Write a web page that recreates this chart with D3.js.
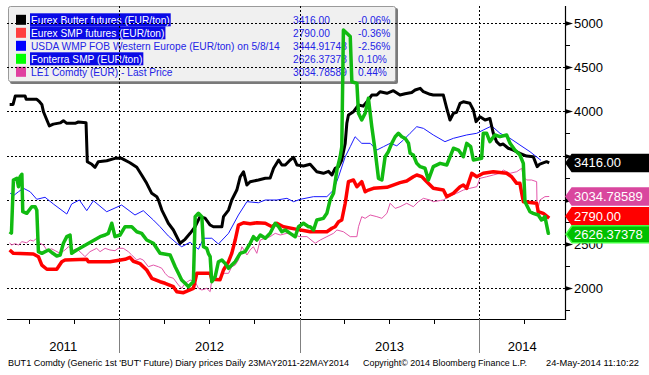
<!DOCTYPE html>
<html>
<head>
<meta charset="utf-8">
<script src="https://cdn.jsdelivr.net/npm/d3@7"></script>
<style>
  html, body { margin: 0; padding: 0; background: #fff; }
  svg { display: block; }
</style>
</head>
<body>
<div id="chart"></div>
<script>
// Time is given as decimal year, values in EUR/ton
const butter = [
  [2011.390, 4080], [2011.409, 4080], [2011.421, 4175], [2011.476, 4175], [2011.482, 4137], [2011.541, 4137],
  [2011.556, 4110], [2011.569, 4080], [2011.578, 3997], [2011.597, 3903], [2011.611, 3835], [2011.633, 3856],
  [2011.671, 3870], [2011.689, 3895], [2011.708, 3865], [2011.754, 3865], [2011.772, 3880], [2011.815, 3872],
  [2011.822, 3430], [2011.847, 3400], [2011.865, 3366], [2011.883, 3430], [2011.930, 3441], [2011.976, 3468],
  [2012.013, 3468], [2012.059, 3418], [2012.097, 3366], [2012.124, 3279], [2012.152, 3184], [2012.180, 3071],
  [2012.208, 3033], [2012.217, 2995], [2012.236, 2881], [2012.254, 2806], [2012.272, 2731], [2012.300, 2655],
  [2012.328, 2541], [2012.337, 2504], [2012.365, 2549], [2012.393, 2617], [2012.421, 2692], [2012.448, 2806],
  [2012.476, 2790], [2012.504, 2711], [2012.522, 2692], [2012.569, 2692], [2012.578, 2806], [2012.606, 2881],
  [2012.624, 2995], [2012.652, 3108], [2012.671, 3259], [2012.689, 3316], [2012.708, 3165], [2012.726, 3203],
  [2012.772, 3222], [2012.810, 3241], [2012.837, 3245], [2012.856, 3355], [2012.884, 3449], [2012.902, 3392],
  [2012.921, 3392], [2012.948, 3449], [2012.967, 3479], [2012.986, 3392], [2013.022, 3381], [2013.059, 3400],
  [2013.096, 3316], [2013.133, 3298], [2013.161, 3320], [2013.180, 3279], [2013.198, 3355], [2013.217, 3373],
  [2013.235, 3449], [2013.254, 3638], [2013.263, 3865], [2013.272, 3959], [2013.300, 3997], [2013.328, 4073],
  [2013.354, 4060], [2013.383, 4130], [2013.402, 4186], [2013.430, 4186], [2013.448, 4224], [2013.486, 4206],
  [2013.522, 4235], [2013.559, 4186], [2013.587, 4200], [2013.624, 4215], [2013.643, 4243], [2013.671, 4262],
  [2013.689, 4224], [2013.726, 4194], [2013.744, 4186], [2013.800, 4186], [2013.819, 4036], [2013.837, 3903],
  [2013.856, 3979], [2013.874, 3990], [2013.893, 4092], [2013.911, 4110], [2013.948, 4092], [2013.967, 4016],
  [2013.982, 3884], [2014.004, 3940], [2014.032, 3903], [2014.059, 3920], [2014.078, 3752], [2014.096, 3657],
  [2014.115, 3619], [2014.133, 3630], [2014.161, 3582], [2014.189, 3562], [2014.226, 3525], [2014.263, 3494],
  [2014.300, 3487], [2014.322, 3373], [2014.337, 3403], [2014.374, 3430], [2014.389, 3416]
];

const smp = [
  [2011.390, 2428], [2011.411, 2390], [2011.522, 2382], [2011.550, 2352], [2011.569, 2257], [2011.597, 2209],
  [2011.652, 2209], [2011.680, 2295], [2011.698, 2314], [2011.819, 2322], [2011.828, 2295], [2011.948, 2295],
  [2012.032, 2322], [2012.059, 2345], [2012.078, 2300], [2012.115, 2273], [2012.152, 2201], [2012.180, 2107],
  [2012.226, 2068], [2012.254, 2050], [2012.300, 2012], [2012.319, 1955], [2012.356, 1943], [2012.411, 1993],
  [2012.430, 2163], [2012.504, 2163], [2012.513, 2095], [2012.559, 2090], [2012.578, 2201], [2012.606, 2295],
  [2012.624, 2390], [2012.643, 2541], [2012.661, 2711], [2012.689, 2737], [2012.726, 2725], [2012.763, 2737],
  [2012.810, 2731], [2012.847, 2692], [2012.874, 2731], [2012.911, 2692], [2012.986, 2662], [2013.022, 2650],
  [2013.059, 2635], [2013.152, 2635], [2013.180, 2674], [2013.198, 2692], [2013.217, 2749], [2013.235, 2768],
  [2013.254, 2958], [2013.272, 3203], [2013.300, 3222], [2013.319, 3146], [2013.346, 3203], [2013.365, 3089],
  [2013.383, 3108], [2013.411, 3128], [2013.486, 3139], [2013.559, 3192], [2013.596, 3211], [2013.633, 3259],
  [2013.652, 3279], [2013.680, 3260], [2013.698, 3222], [2013.744, 3128], [2013.800, 3108], [2013.819, 3033],
  [2013.856, 3071], [2013.893, 3146], [2013.911, 3165], [2013.930, 3128], [2013.958, 3298], [2013.986, 3259],
  [2014.022, 3298], [2014.078, 3316], [2014.152, 3298], [2014.180, 3259], [2014.208, 3184], [2014.226, 3184],
  [2014.236, 3071], [2014.245, 2976], [2014.319, 2958], [2014.328, 2862], [2014.356, 2844], [2014.389, 2790]
];

const wmp = [
  [2011.393, 3071], [2011.415, 3050], [2011.439, 3089], [2011.467, 3128], [2011.504, 3089], [2011.541, 3003],
  [2011.587, 3026], [2011.633, 2950], [2011.708, 2836], [2011.735, 2950], [2011.778, 2995], [2011.819, 2874],
  [2011.856, 2987], [2011.930, 2862], [2012.013, 2938], [2012.087, 2825], [2012.133, 2874], [2012.189, 2768],
  [2012.226, 2692], [2012.272, 2587], [2012.319, 2504], [2012.346, 2465], [2012.393, 2515], [2012.439, 2436],
  [2012.467, 2561], [2012.513, 2561], [2012.550, 2496], [2012.606, 2617], [2012.661, 2825], [2012.708, 2976],
  [2012.772, 2964], [2012.810, 2995], [2012.874, 2995], [2012.930, 3014], [2012.967, 2976], [2013.004, 3003],
  [2013.078, 3033], [2013.152, 3033], [2013.189, 3108], [2013.217, 3259], [2013.254, 3486], [2013.282, 3600],
  [2013.309, 3713], [2013.346, 3638], [2013.393, 3638], [2013.430, 3562], [2013.467, 3600], [2013.504, 3638],
  [2013.541, 3610], [2013.578, 3676], [2013.615, 3752], [2013.652, 3827], [2013.689, 3808], [2013.744, 3733],
  [2013.809, 3657], [2013.856, 3695], [2013.930, 3733], [2013.986, 3752], [2014.022, 3789], [2014.069, 3835],
  [2014.115, 3752], [2014.171, 3695], [2014.226, 3619], [2014.282, 3543], [2014.343, 3445]
];

const fonterra = [
  [2011.390, 2635], [2011.400, 2620], [2011.411, 3222], [2011.430, 3241], [2011.439, 3146], [2011.448, 3259],
  [2011.458, 3287], [2011.463, 2862], [2011.485, 2844], [2011.513, 2919], [2011.532, 2919], [2011.541, 2880],
  [2011.550, 2409], [2011.569, 2390], [2011.606, 2428], [2011.624, 2400], [2011.652, 2360], [2011.671, 2371],
  [2011.689, 2504], [2011.708, 2579], [2011.726, 2598], [2011.735, 2390], [2011.763, 2428], [2011.893, 2579],
  [2011.921, 2598], [2011.939, 2617], [2011.958, 2731], [2011.976, 2579], [2012.004, 2598], [2012.032, 2692],
  [2012.069, 2692], [2012.097, 2635], [2012.124, 2617], [2012.152, 2541], [2012.189, 2504], [2012.226, 2390],
  [2012.282, 2371], [2012.310, 2238], [2012.328, 2163], [2012.346, 2087], [2012.365, 2050], [2012.383, 2012],
  [2012.411, 2068], [2012.421, 2806], [2012.439, 2844], [2012.458, 2806], [2012.467, 2465], [2012.485, 2447],
  [2012.494, 2390], [2012.504, 2352], [2012.513, 2068], [2012.532, 2125], [2012.550, 2295], [2012.569, 2314],
  [2012.587, 2276], [2012.606, 2220], [2012.624, 2257], [2012.643, 2295], [2012.671, 2390], [2012.698, 2409],
  [2012.726, 2504], [2012.744, 2579], [2012.763, 2541], [2012.782, 2598], [2012.810, 2561], [2012.837, 2617],
  [2012.865, 2731], [2012.884, 2692], [2012.902, 2635], [2012.921, 2655], [2012.948, 2617], [2012.976, 2579],
  [2012.994, 2692], [2013.022, 2731], [2013.050, 2692], [2013.059, 2692], [2013.078, 2655], [2013.096, 2768],
  [2013.133, 2787], [2013.152, 2844], [2013.170, 2995], [2013.189, 3071], [2013.208, 3336], [2013.226, 3486],
  [2013.235, 3600], [2013.244, 4924], [2013.263, 4887], [2013.282, 4850], [2013.291, 4337], [2013.319, 4319],
  [2013.328, 3979], [2013.346, 3903], [2013.365, 3979], [2013.383, 4149], [2013.402, 3827], [2013.420, 3562],
  [2013.439, 3241], [2013.458, 3222], [2013.476, 3486], [2013.494, 3543], [2013.513, 3638], [2013.532, 3713],
  [2013.550, 3752], [2013.569, 3713], [2013.587, 3695], [2013.606, 3638], [2013.615, 3525], [2013.633, 3506],
  [2013.652, 3411], [2013.671, 3373], [2013.698, 3355], [2013.717, 3222], [2013.744, 3373], [2013.782, 3411],
  [2013.819, 3392], [2013.856, 3582], [2013.884, 3562], [2013.911, 3486], [2013.930, 3638], [2013.952, 3600],
  [2013.967, 3449], [2014.013, 3468], [2014.022, 3752], [2014.041, 3752], [2014.059, 3657], [2014.087, 3733],
  [2014.115, 3714], [2014.152, 3733], [2014.171, 3638], [2014.198, 3562], [2014.226, 3506], [2014.245, 3411],
  [2014.254, 2976], [2014.282, 2862], [2014.300, 2844], [2014.328, 2825], [2014.346, 2768], [2014.365, 2806],
  [2014.384, 2617], [2014.389, 2626]
];

const le1 = [
  [2011.390, 2510], [2011.400, 2484], [2011.421, 2500], [2011.439, 2484], [2011.458, 2522], [2011.485, 2510],
  [2011.504, 2541], [2011.522, 2530], [2011.541, 2561], [2011.559, 2504], [2011.578, 2484], [2011.597, 2428],
  [2011.624, 2440], [2011.643, 2420], [2011.671, 2390], [2011.698, 2428], [2011.717, 2465], [2011.744, 2428],
  [2011.763, 2440], [2011.791, 2390], [2011.809, 2352], [2011.837, 2409], [2011.874, 2447], [2011.893, 2409],
  [2011.921, 2447], [2011.948, 2428], [2011.976, 2420], [2011.994, 2447], [2012.022, 2447], [2012.050, 2409],
  [2012.069, 2371], [2012.097, 2314], [2012.115, 2330], [2012.133, 2314], [2012.161, 2238], [2012.189, 2257],
  [2012.217, 2238], [2012.236, 2220], [2012.254, 2163], [2012.272, 2125], [2012.300, 2107], [2012.328, 2031],
  [2012.346, 1993], [2012.365, 2050], [2012.393, 2087], [2012.421, 2068], [2012.439, 1993], [2012.458, 1974],
  [2012.485, 1993], [2012.504, 1955], [2012.513, 2087], [2012.541, 2107], [2012.559, 2087], [2012.578, 2163],
  [2012.606, 2163], [2012.624, 2238], [2012.643, 2257], [2012.661, 2314], [2012.680, 2465], [2012.698, 2409],
  [2012.708, 2371], [2012.726, 2428], [2012.744, 2465], [2012.763, 2390], [2012.782, 2541], [2012.810, 2561],
  [2012.837, 2579], [2012.865, 2617], [2012.893, 2598], [2012.930, 2617], [2012.967, 2598], [2013.004, 2579],
  [2013.041, 2580], [2013.087, 2504], [2013.115, 2541], [2013.152, 2579], [2013.189, 2617], [2013.208, 2655],
  [2013.244, 2635], [2013.282, 2579], [2013.319, 2579], [2013.328, 2692], [2013.346, 2806], [2013.365, 2787],
  [2013.393, 2825], [2013.430, 2806], [2013.458, 2787], [2013.486, 2844], [2013.504, 2958], [2013.532, 2900],
  [2013.559, 2919], [2013.596, 2958], [2013.633, 2919], [2013.661, 2976], [2013.689, 3014], [2013.726, 2995],
  [2013.744, 2976], [2013.800, 2995], [2013.828, 3033], [2013.874, 3071], [2013.911, 3108], [2013.948, 3128],
  [2013.986, 3146], [2014.004, 3241], [2014.041, 3259], [2014.078, 3279], [2014.115, 3298], [2014.133, 3336],
  [2014.171, 3298], [2014.208, 3316], [2014.236, 3355], [2014.245, 3259], [2014.263, 3222], [2014.291, 3222],
  [2014.319, 3203], [2014.322, 2844], [2014.337, 2995], [2014.365, 3033], [2014.389, 3035]
];

// Legend rows
const legendNames = [
  "Eurex Butter futures (EUR/ton)",
  "Eurex SMP futures (EUR/ton)",
  "USDA WMP FOB Western Europe (EUR/ton) on 5/8/14",
  "Fonterra SMP (EUR/ton)",
  "LE1 Comdty (EUR)  - Last Price"
];
const legendLast = ["3416.00", "2790.00", "3444.91748", "2626.37378", "3034.78589"];
const legendChange = ["-0.06%", "-0.36%", "-2.56%", "0.10%", "0.44%"];
const legendSelected = [true, true, false, true, false];

const yTicks = [2000, 2500, 3000, 3500, 4000, 4500, 5000];
const yMinorTicks = [1750, 2250, 2750, 3250, 3750, 4250, 4750];
const yearLabels = ["2011", "2012", "2013", "2014"];

const footLeft = "BUT1 Comdty (Generic 1st 'BUT' Future) Diary prices  Daily 23MAY2011-22MAY2014";
const footMid = "Copyright\u00a9 2014 Bloomberg Finance L.P.";
const footRight = "24-May-2014 11:10:22";

// Series styles (draw order)
const series = [
  { data: le1,      color: "#e356aa", width: 1 },
  { data: wmp,      color: "#1a1aff", width: 1 },
  { data: butter,   color: "#000000", width: 3 },
  { data: smp,      color: "#ff0000", width: 3.5 },
  { data: fonterra, color: "#11bb11", width: 3.5 }
];
const legendColors = ["#000000", "#ff4040", "#0000ff", "#00ff00", "#e040a0"];

const W = 649, H = 375;
const plotL = 7, plotR = 565, plotT = 6, plotB = 319;
const font = "'Liberation Sans', Arial, sans-serif";
const legendFont = "10.2px";

// decimal year -> Date
function toDate(t) {
  const yr = Math.floor(t);
  const a = new Date(yr, 0, 1), b = new Date(yr + 1, 0, 1);
  return new Date(+a + (t - yr) * (b - a));
}

const x = d3.scaleTime()
  .domain([new Date(2012, 0, 1), new Date(2014, 0, 1)])
  .range([119.3, 479.3]);

const y = d3.scaleLinear()
  .domain([2000, 5000])
  .range([287.7, 23.3]);

const svg = d3.select("#chart").append("svg")
  .attr("width", W)
  .attr("height", H)
  .style("font-family", font);

// Legend box (sits under the grid and the lines)
const lg = svg.append("g");
lg.append("rect")
  .attr("x", 10).attr("y", 8).attr("width", 388).attr("height", 76)
  .attr("fill", "#7a7a7a").attr("rx", 2);
lg.append("rect")
  .attr("x", 8.5).attr("y", 6.5).attr("width", 387).attr("height", 75)
  .attr("fill", "#f0f0f0").attr("stroke", "#9a9a9a").attr("rx", 2);

legendNames.forEach((name, i) => {
  const cy = 19.8 + i * 13;
  lg.append("rect")
    .attr("x", 16).attr("y", cy - 5).attr("width", 10).attr("height", 10)
    .attr("fill", legendColors[i]);
  const t = lg.append("text")
    .attr("x", 31).attr("y", cy + 4)
    .style("font-size", legendFont)
    .attr("fill", legendSelected[i] ? "#ffffff" : "#2424e6")
    .text(name);
  if (legendSelected[i]) {
    const w = t.node().getComputedTextLength();
    lg.insert("rect", () => t.node())
      .attr("x", 30).attr("y", cy - 6.5).attr("width", w + 2).attr("height", 13)
      .attr("fill", "#0a0ae6");
  }
  lg.append("text")
    .attr("x", 293).attr("y", cy + 4)
    .style("font-size", legendFont)
    .attr("fill", "#2424e6")
    .text(legendLast[i]);
  lg.append("text")
    .attr("x", 358).attr("y", cy + 4)
    .style("font-size", legendFont)
    .attr("fill", "#2424e6")
    .text(legendChange[i]);
});

// Dotted grid
svg.append("g")
  .selectAll("line")
  .data(yTicks)
  .join("line")
  .attr("x1", plotL).attr("x2", plotR)
  .attr("y1", d => Math.round(y(d)) + 0.5).attr("y2", d => Math.round(y(d)) + 0.5)
  .attr("stroke", "#000").attr("stroke-dasharray", "2,2");

const yearStarts = d3.timeYear.range(x.invert(plotL), x.invert(plotR));
svg.append("g")
  .selectAll("line")
  .data(yearStarts)
  .join("line")
  .attr("x1", d => Math.round(x(d)) + 0.5).attr("x2", d => Math.round(x(d)) + 0.5)
  .attr("y1", plotT).attr("y2", plotB)
  .attr("stroke", "#000").attr("stroke-dasharray", "2,2");

// Lines
const line = d3.line()
  .x(d => x(toDate(d[0])))
  .y(d => y(d[1]));

series.forEach(s => {
  svg.append("path")
    .datum(s.data)
    .attr("fill", "none")
    .attr("stroke", s.color)
    .attr("stroke-width", s.width)
    .attr("stroke-linejoin", "round")
    .attr("d", line);
});

// Bottom axis
svg.append("line")
  .attr("x1", plotL).attr("x2", plotR + 0.5)
  .attr("y1", plotB + 0.5).attr("y2", plotB + 0.5)
  .attr("stroke", "#000").attr("stroke-width", 1.2);

const quarters = d3.timeMonth.every(3).range(x.invert(plotL), x.invert(plotR));
svg.append("g")
  .selectAll("line")
  .data(quarters.filter(d => d.getMonth() !== 0))
  .join("line")
  .attr("x1", d => Math.round(x(d)) + 0.5).attr("x2", d => Math.round(x(d)) + 0.5)
  .attr("y1", plotB).attr("y2", plotB + 5)
  .attr("stroke", "#000");

svg.append("g")
  .selectAll("line")
  .data(yearStarts)
  .join("line")
  .attr("x1", d => Math.round(x(d)) + 0.5).attr("x2", d => Math.round(x(d)) + 0.5)
  .attr("y1", plotB).attr("y2", 353)
  .attr("stroke", "#808080");

// Year labels centred in the visible part of each year
svg.append("g")
  .selectAll("text")
  .data(yearLabels)
  .join("text")
  .attr("x", d => {
    const a = Math.max(plotL, x(new Date(+d, 0, 1)));
    const b = Math.min(plotR, x(new Date(+d + 1, 0, 1)));
    return (a + b) / 2;
  })
  .attr("y", 351)
  .attr("text-anchor", "middle")
  .style("font-size", "13px")
  .text(d => d);

// Last value tags: place at the value, then push overlapping neighbours apart
const tags = [
  { v: +legendLast[0], text: legendLast[0], fill: "#000000", stroke: "#000000" },
  { v: +legendLast[4], text: legendLast[4], fill: "#d9479e", stroke: "#d9479e" },
  { v: +legendLast[1], text: legendLast[1], fill: "#ff0000", stroke: "#ff0000" },
  { v: +legendLast[3], text: legendLast[3], fill: "#00c000", stroke: "#44ff44" }
];
const tagH = 17, tagGap = 18;
tags.forEach(t => t.yc = y(t.v));
for (let k = 1; k < tags.length; k++) {
  const d = tags[k].yc - tags[k - 1].yc;
  if (d < tagGap) {
    tags[k - 1].yc -= (tagGap - d) / 2;
    tags[k].yc += (tagGap - d) / 2;
  }
}

// Right axis
svg.append("line")
  .attr("x1", plotR + 0.5).attr("x2", plotR + 0.5)
  .attr("y1", plotT).attr("y2", plotB + 1)
  .attr("stroke", "#000").attr("stroke-width", 1.2);

svg.append("g")
  .selectAll("line")
  .data(yMinorTicks)
  .join("line")
  .attr("x1", plotR).attr("x2", plotR + 5)
  .attr("y1", d => Math.round(y(d)) + 0.5).attr("y2", d => Math.round(y(d)) + 0.5)
  .attr("stroke", "#000");

const yAx = svg.append("g");
yTicks.forEach(v => {
  const yy = Math.round(y(v)) + 0.5;
  yAx.append("path")
    .attr("d", `M${plotR},${yy - 2.5}L${plotR + 8},${yy}L${plotR},${yy + 2.5}Z`)
    .attr("fill", "#000");
  // labels hidden behind a value tag are not drawn
  if (tags.some(t => Math.abs(t.yc - yy) < 8)) return;
  yAx.append("text")
    .attr("x", 574).attr("y", yy + 4.5)
    .style("font-size", "13px")
    .attr("fill", "#000")
    .text(v);
});

tags.forEach(t => {
  const yc = t.yc, h = tagH;
  svg.append("path")
    .attr("d", `M${plotR + 1},${yc}L${plotR + 7},${yc - h / 2}L${W + 2},${yc - h / 2}L${W + 2},${yc + h / 2}L${plotR + 7},${yc + h / 2}Z`)
    .attr("fill", t.fill)
    .attr("stroke", t.stroke)
    .attr("stroke-width", 1.5);
  svg.append("text")
    .attr("x", 574).attr("y", yc + 4.5)
    .style("font-size", "13px")
    .attr("fill", "#fff")
    .text(t.text);
});

// Footer
svg.append("text")
  .attr("x", 8).attr("y", 366)
  .style("font-size", "9px")
  .attr("textLength", 341).attr("lengthAdjust", "spacingAndGlyphs")
  .text(footLeft);
svg.append("text")
  .attr("x", 363).attr("y", 366)
  .style("font-size", "9px")
  .attr("textLength", 164).attr("lengthAdjust", "spacingAndGlyphs")
  .text(footMid);
svg.append("text")
  .attr("x", 546).attr("y", 366)
  .style("font-size", "9px")
  .attr("textLength", 93).attr("lengthAdjust", "spacingAndGlyphs")
  .text(footRight);
</script>
</body>
</html>
